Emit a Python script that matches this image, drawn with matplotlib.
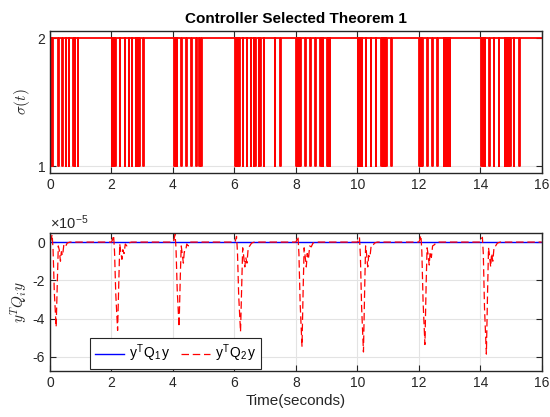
import matplotlib
matplotlib.use("Agg")
import matplotlib.pyplot as plt
from matplotlib.ticker import FuncFormatter

# --- data -------------------------------------------------------------------
# switching instants where sigma drops from 2 to 1 (one list per 2 s burst)
sw_b1 = [0.02, 0.04, 0.07, 0.10, 0.27, 0.40, 0.51, 0.62, 0.76, 0.80, 0.90]
sw_b2 = [2.01, 2.04, 2.07, 2.10, 2.13, 2.28, 2.44, 2.56, 2.67, 2.79, 2.83, 2.87, 2.91, 3.04]
sw_b3 = [4.02, 4.05, 4.08, 4.12, 4.27, 4.43, 4.60, 4.76, 4.86, 4.92]
sw_b4 = [6.03, 6.06, 6.09, 6.13, 6.16, 6.28, 6.40, 6.54, 6.64, 6.68, 6.80, 6.84, 6.95, 7.31, 7.50]
sw_b5 = [8.02, 8.05, 8.08, 8.11, 8.14, 8.31, 8.47, 8.63, 8.80, 8.84, 8.88, 9.02, 9.06, 9.10]
sw_b6 = [10.02, 10.05, 10.08, 10.11, 10.14, 10.28, 10.44, 10.60, 10.78, 10.82, 10.86, 10.90, 10.94, 11.11]
sw_b7 = [12.02, 12.05, 12.08, 12.11, 12.14, 12.28, 12.44, 12.60, 12.82, 12.85, 12.88, 12.91, 12.94, 12.97, 13.00]
sw_b8 = [14.03, 14.06, 14.09, 14.12, 14.15, 14.30, 14.45, 14.61, 14.79, 14.84, 14.89, 14.94, 14.98, 15.10, 15.27]
pulse_width = 0.012

# y^T Q2 y around each burst start (values in units of 1e-5)
burst_start = [0, 2, 4, 6, 8, 10, 12, 14]
q2_offsets = [0, 0.03, 0.07, 0.10, 0.14, 0.20, 0.24, 0.27, 0.30, 0.34, 0.37, 0.41, 0.45, 0.50, 0.56, 0.65]
q2_b1 = [0, 0.10, 0.40, -0.4, -2.6, -4.44, -1.9, -0.2, -0.4, -1.0, -0.5, -0.7, -0.15, -0.25, -0.05, 0]
q2_b2 = [0, 0.10, 0.35, -0.5, -2.7, -4.62, -2.0, -0.1, -0.5, -0.9, -0.4, -0.6, -0.10, -0.20, -0.05, 0]
q2_b3 = [0, 0.10, 0.40, -0.3, -2.5, -4.44, -1.8, -0.2, -0.6, -1.1, -0.5, -0.5, -0.10, -0.20, 0, 0]
q2_b4 = [0, 0.05, 0.30, -0.5, -2.8, -4.69, -2.1, -0.3, -0.7, -1.3, -0.8, -1.1, -0.30, -0.20, -0.05, 0]
q2_b5 = [0, 0.10, 0.30, -0.6, -3.2, -5.45, -2.3, -0.3, -0.7, -1.3, -0.6, -0.9, -0.20, -0.25, -0.05, 0]
q2_b6 = [0, 0.05, 0.25, -0.7, -3.4, -5.75, -2.4, -0.2, -0.6, -1.3, -0.7, -0.8, -0.20, -0.20, -0.05, 0]
q2_b7 = [0, 0.10, 0.35, -0.5, -3.1, -5.36, -2.2, -0.3, -0.6, -1.2, -0.5, -0.8, -0.20, -0.15, -0.05, 0]
q2_b8 = [0, 0.10, 0.25, -0.6, -3.5, -5.86, -2.5, -0.3, -0.7, -1.3, -0.6, -1.0, -0.25, -0.20, -0.05, 0]

# y^T Q1 y stays at zero
q1_t = [0, 16]
q1_v = [0, 0]

t_end = 16

# --- build step / line series -----------------------------------------------
sig_t, sig_v = [0.0], [2]
for burst in (sw_b1, sw_b2, sw_b3, sw_b4, sw_b5, sw_b6, sw_b7, sw_b8):
    for s in burst:
        sig_t += [s, s, s + pulse_width, s + pulse_width]
        sig_v += [2, 1, 1, 2]
sig_t.append(t_end)
sig_v.append(2)

q2_t, q2_v = [], []
for t0, vals in zip(burst_start, (q2_b1, q2_b2, q2_b3, q2_b4, q2_b5, q2_b6, q2_b7, q2_b8)):
    q2_t += [t0 + o for o in q2_offsets]
    q2_v += [v * 1e-5 for v in vals]
q2_t.append(t_end)
q2_v.append(0)

# --- styling ----------------------------------------------------------------
plt.rcParams["font.family"] = ["Liberation Sans", "DejaVu Sans"]
plt.rcParams["mathtext.fontset"] = "cm"
plt.rcParams["axes.unicode_minus"] = False
AX = "#262626"
GRID = "#e3e3e3"


def style(ax):
    ax.grid(True, color=GRID, lw=0.8)
    ax.set_axisbelow(True)
    for sp in ax.spines.values():
        sp.set_color(AX)
        sp.set_linewidth(1.0)
    ax.tick_params(direction="in", top=True, right=True, length=4,
                   width=0.8, color=AX, labelcolor=AX, labelsize=10)
    ax.set_xlim(0, 16)
    ax.set_xticks(range(0, 17, 2))


fig = plt.figure(figsize=(5.5, 4.17), dpi=100)
ax1 = fig.add_axes([0.0909, 0.585, 0.894, 0.341])
ax2 = fig.add_axes([0.0909, 0.111, 0.894, 0.330])

# top: switching signal
style(ax1)
ax1.plot(sig_t, sig_v, color="red", lw=1.3)
ax1.set_ylim(0.945, 2.057)
ax1.set_yticks([1, 2])
ax1.set_ylabel(r"$\sigma(t)$", fontsize=11, color=AX, labelpad=4)
ax1.set_title("Controller Selected Theorem 1", fontsize=11, fontweight="bold",
              color="black", pad=6)

# bottom: quadratic forms
style(ax2)
ax2.plot(q1_t, q1_v, color="blue", lw=1.0, label=r"y$^\mathregular{T}$Q$_\mathregular{1}$y")
ax2.plot(q2_t, q2_v, color="red", lw=0.9, dashes=(6, 3),
         label=r"y$^\mathregular{T}$Q$_\mathregular{2}$y")
ax2.set_ylim(-6.73e-5, 0.47e-5)
ax2.set_yticks([-6e-5, -4e-5, -2e-5, 0])
ax2.yaxis.set_major_formatter(FuncFormatter(lambda v, _: f"{v / 1e-5:g}"))
ax2.text(0, 1.008, "×10$^{\\mathregular{-5}}$", transform=ax2.transAxes,
         ha="left", va="bottom", fontsize=10.5, color=AX)
ax2.set_ylabel(r"$y^TQ_iy$", fontsize=11, color=AX, labelpad=2)
ax2.set_xlabel("Time(seconds)", fontsize=11, color=AX, labelpad=3)

leg = ax2.legend(loc="lower left", bbox_to_anchor=(0.078, 0.0), ncol=2,
                 fontsize=10, frameon=True, fancybox=False, framealpha=1,
                 edgecolor=AX, handlelength=2.1, handletextpad=0.35,
                 columnspacing=0.8, borderpad=0.35, borderaxespad=0.1)
leg.get_frame().set_linewidth(0.8)

fig.savefig("out.png", dpi=100)
